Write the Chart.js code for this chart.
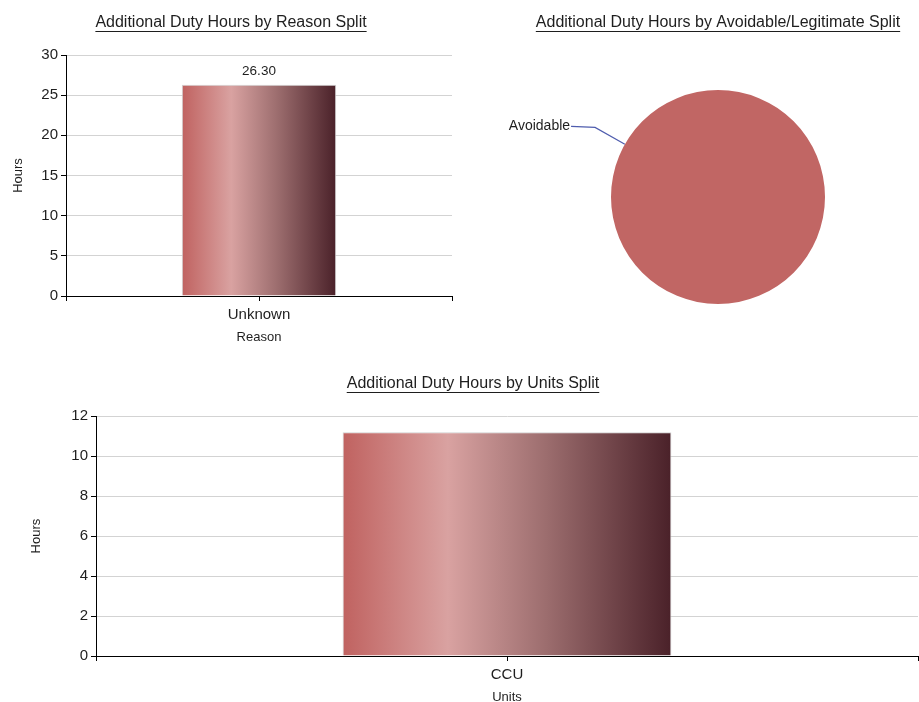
<!DOCTYPE html>
<html><head><meta charset="utf-8">
<script src="https://cdn.jsdelivr.net/npm/chart.js@4.4.1/dist/chart.umd.min.js"></script>
<style>
html,body{margin:0;padding:0;background:#fff;overflow:hidden;width:919px;height:702px;}
.box{position:absolute;}
</style></head><body>
<div class="box" style="left:0;top:0;width:460px;height:350px"><canvas id="c1"></canvas></div>
<div class="box" style="left:460px;top:0;width:459px;height:350px"><canvas id="c2"></canvas></div>
<div class="box" style="left:0;top:360px;width:919px;height:350px"><canvas id="c3"></canvas></div>
<script>
// ---- data ----
const reasonTitle = 'Additional Duty Hours by Reason Split';
const reasonLabels = ['Unknown'];
const reasonHours = [26.3];
const reasonYTicks = [0, 5, 10, 15, 20, 25, 30];

const splitTitle = 'Additional Duty Hours by Avoidable/Legitimate Split';
const splitLabels = ['Avoidable'];
const splitHours = [26.3];

const unitsTitle = 'Additional Duty Hours by Units Split';
const unitLabels = ['CCU'];
const unitHours = [11.2];
const unitsYTicks = [0, 2, 4, 6, 8, 10, 12];

// ---- styles ----
const FONT = '"Liberation Sans", Arial, sans-serif';
const TXT = '#1e1e1e';
const BAR_PCT = 0.4;
Chart.defaults.font.family = FONT;
Chart.defaults.color = TXT;
Chart.defaults.animation = false;

function barGradient(ctx) {
  const chart = ctx.chart;
  const area = chart.chartArea;
  const xs = chart.scales.x;
  if (!area || !xs) return '#C06260';
  const n = chart.data.labels.length;
  const w = area.width / n * BAR_PCT;
  const cx = xs.getPixelForValue(ctx.dataIndex);
  const g = chart.ctx.createLinearGradient(cx - w / 2, 0, cx + w / 2, 0);
  g.addColorStop(0, '#C06260');
  g.addColorStop(0.32, '#D9A2A1');
  g.addColorStop(0.62, '#9C6D6E');
  g.addColorStop(1, '#4A2129');
  return g;
}

const underlineTitle = {
  id: 'underlineTitle',
  afterDraw(chart) {
    const tb = chart.titleBlock;
    if (!tb || !tb.options.display) return;
    const ctx = chart.ctx;
    const f = Chart.helpers.toFont(tb.options.font);
    ctx.save();
    ctx.font = f.string;
    const w = ctx.measureText(tb.options.text).width;
    const pad = Chart.helpers.toPadding(tb.options.padding);
    const cx = (tb.left + tb.right) / 2;
    const cy = tb.top + pad.top + f.lineHeight / 2;
    const y = Math.round(cy + f.size * 0.5) + 0.5;
    ctx.strokeStyle = TXT;
    ctx.lineWidth = 1;
    ctx.beginPath();
    ctx.moveTo(cx - w / 2, y);
    ctx.lineTo(cx + w / 2, y);
    ctx.stroke();
    ctx.restore();
  }
};

const centerTicks = {
  id: 'centerTicks',
  afterDraw(chart) {
    const xs = chart.scales.x;
    if (!xs) return;
    const ctx = chart.ctx;
    ctx.save();
    ctx.strokeStyle = '#000';
    ctx.lineWidth = 1;
    chart.data.labels.forEach((l, i) => {
      const x = Math.round(xs.getPixelForValue(i)) + 0.5;
      ctx.beginPath();
      ctx.moveTo(x, xs.top);
      ctx.lineTo(x, xs.top + 5);
      ctx.stroke();
    });
    ctx.restore();
  }
};

const valueLabels = {
  id: 'valueLabels',
  afterDatasetsDraw(chart, args, opts) {
    if (!opts.show) return;
    const ctx = chart.ctx;
    const ds = chart.data.datasets[0];
    chart.getDatasetMeta(0).data.forEach((el, i) => {
      ctx.save();
      ctx.font = '13.5px ' + FONT;
      ctx.fillStyle = TXT;
      ctx.textAlign = 'center';
      ctx.textBaseline = 'bottom';
      ctx.fillText(ds.data[i].toFixed(2), el.x, el.y - 7);
      ctx.restore();
    });
  }
};

const pieLeader = {
  id: 'pieLeader',
  afterDatasetsDraw(chart, args, opts) {
    const el = chart.getDatasetMeta(0).data[0];
    if (!el) return;
    const a = opts.angle * Math.PI / 180;
    const r = el.outerRadius;
    const p0 = [el.x + r * Math.cos(a), el.y + r * Math.sin(a)];
    const p1 = [el.x + r * opts.ext * Math.cos(a), el.y + r * opts.ext * Math.sin(a)];
    const p2 = [p1[0] - opts.run, p1[1] - 1];
    const ctx = chart.ctx;
    ctx.save();
    ctx.strokeStyle = '#4F5DAE';
    ctx.lineWidth = 1.2;
    ctx.beginPath();
    ctx.moveTo(p0[0], p0[1]);
    ctx.lineTo(p1[0], p1[1]);
    ctx.lineTo(p2[0], p2[1]);
    ctx.stroke();
    ctx.font = '14px ' + FONT;
    ctx.fillStyle = TXT;
    ctx.textAlign = 'right';
    ctx.textBaseline = 'middle';
    ctx.fillText(chart.data.labels[0], p2[0] - 1, p2[1]);
    ctx.restore();
  }
};

function titleOpts(text, padTop, padBottom) {
  return {
    display: true, text, color: TXT,
    font: { family: FONT, size: 16, weight: 'normal' },
    padding: { top: padTop, bottom: padBottom }
  };
}

function barConfig(labels, values, yTicks, title, titlePads, xTitle, padLeft, yAxisWidth, yTitlePad, showVals) {
  return {
    type: 'bar',
    data: {
      labels,
      datasets: [{
        data: values,
        backgroundColor: barGradient,
        borderColor: 'rgba(205,205,205,0.9)',
        borderWidth: 1,
        barPercentage: BAR_PCT,
        categoryPercentage: 1
      }]
    },
    options: {
      responsive: true,
      maintainAspectRatio: false,
      devicePixelRatio: 1,
      layout: { padding: { left: padLeft, right: 8, top: 0, bottom: 0 } },
      plugins: {
        legend: { display: false },
        tooltip: { enabled: false },
        title: titleOpts(title, titlePads[0], titlePads[1]),
        valueLabels: { show: showVals }
      },
      scales: {
        x: {
          offset: true,
          grid: { display: true, drawOnChartArea: false, offset: true, tickLength: 5, tickColor: '#000' },
          border: { color: '#000', width: 1 },
          ticks: { color: TXT, font: { size: 15 }, padding: 5 },
          title: { display: true, text: xTitle, color: TXT, font: { size: 13 }, padding: { top: 0, bottom: 5 } },
          afterFit(s) { s.height = 54; }
        },
        y: {
          min: yTicks[0], max: yTicks[yTicks.length - 1],
          afterBuildTicks(s) { s.ticks = yTicks.map(v => ({ value: v })); },
          grid: { color: '#D3D3D3', lineWidth: 1, tickLength: 5, tickColor: '#000' },
          border: { color: '#000', width: 1 },
          ticks: { color: TXT, font: { size: 15 }, padding: 3 },
          title: { display: true, text: 'Hours', color: TXT, font: { size: 13 }, padding: { top: yTitlePad, bottom: 0 } },
          afterFit(s) { s.width = yAxisWidth; }
        }
      }
    },
    plugins: [underlineTitle, centerTicks, valueLabels]
  };
}

new Chart(document.getElementById('c1'),
  barConfig(reasonLabels, reasonHours, reasonYTicks, reasonTitle, [13, 22.8], 'Reason', 10, 56, 0.5, true));

const c3cfg = barConfig(unitLabels, unitHours, unitsYTicks, unitsTitle, [14, 23], 'Units', 28, 68, 0.5, false);
c3cfg.options.layout.padding.right = 1;
new Chart(document.getElementById('c3'), c3cfg);

new Chart(document.getElementById('c2'), {
  type: 'pie',
  data: {
    labels: splitLabels,
    datasets: [{ data: splitHours, backgroundColor: '#C16664', borderWidth: 0 }]
  },
  options: {
    responsive: true,
    maintainAspectRatio: false,
    devicePixelRatio: 1,
    layout: { padding: { left: 57, right: 0, top: 0, bottom: 46 } },
    plugins: {
      legend: { display: false },
      tooltip: { enabled: false },
      title: titleOpts(splitTitle, 13, 57.8),
      pieLeader: { angle: -150.5, ext: 1.32, run: 24 }
    }
  },
  plugins: [underlineTitle, pieLeader]
});
</script>
</body></html>
